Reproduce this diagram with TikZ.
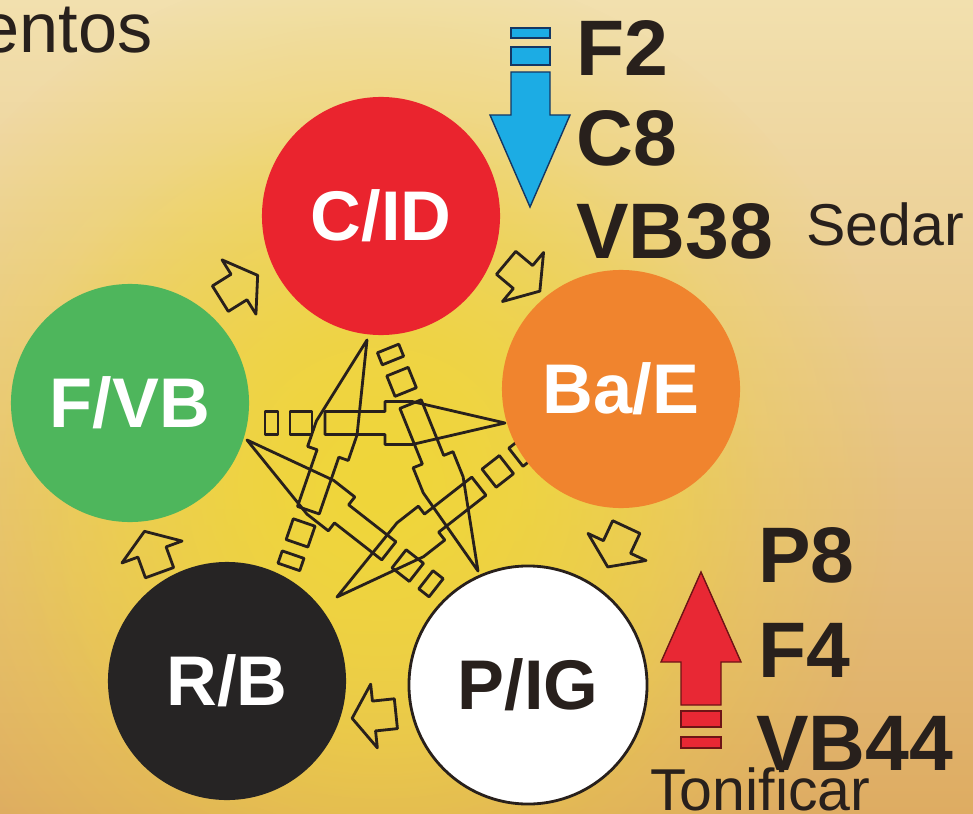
\documentclass[tikz,border=0pt]{standalone}
\usepackage{fontspec}
\setmainfont{Liberation Sans}
\usepackage{tikz}
\usetikzlibrary{arrows.meta,positioning,fadings}
\definecolor{bgTop}{RGB}{242,224,174}
\definecolor{bgBottom}{RGB}{222,172,98}
\definecolor{glowYellow}{RGB}{240,214,58}
\definecolor{fireRed}{RGB}{234,36,46}
\definecolor{woodGreen}{RGB}{78,182,92}
\definecolor{earthOrange}{RGB}{240,132,46}
\definecolor{waterBlack}{RGB}{38,36,36}
\definecolor{inkDark}{RGB}{40,32,28}
\definecolor{sedateBlue}{RGB}{28,172,228}
\definecolor{sedateEdge}{RGB}{20,55,100}
\definecolor{tonifyRed}{RGB}{232,40,52}
\definecolor{tonifyEdge}{RGB}{110,20,22}
\tikzfading[name=glowfade, inner color=transparent!0, outer color=transparent!100]

\begin{document}
\begin{tikzpicture}[x=0.025cm, y=-0.025cm,
    phase/.style={circle, minimum size=5.95cm, inner sep=0pt, text=white,
      font=\fontsize{50}{50}\selectfont\bfseries},
    pointlabel/.style={inner sep=0pt, anchor=base west, text=inkDark,
      font=\fontsize{56}{56}\selectfont\bfseries},
    note/.style={inner sep=0pt, anchor=base west, text=inkDark,
      font=\fontsize{42}{42}\selectfont},
    inkline/.style={draw=inkDark, line width=2pt, line join=round},
    flow/.pic={\draw[inkline] (-22,-15) -- (0,-15) -- (0,-32) -- (22,0) -- (0,32) -- (0,15) -- (-22,15) -- cycle;},
    cross/.pic={
      \draw[inkline] (0,0) -- (93,21.5) -- (120,21.5) -- (120,11.5) -- (180,11.5)
        -- (180,-11.5) -- (120,-11.5) -- (120,-21.5) -- (93,-21.5) -- cycle;
      \draw[inkline] (193,-11.5) rectangle (215,11.5);
      \draw[inkline] (227,-11.5) rectangle (240,11.5);}]
    % Page and parchment
    \useasboundingbox (0,0) rectangle (973,814);
    \clip (0,0) rectangle (973,814);
    \shade[top color=bgTop, bottom color=bgBottom] (0,0) rectangle (973,814);
    % Yellow glow in the middle
    \fill[glowYellow, path fading=glowfade] (380,480) circle (520);
    \fill[glowYellow, path fading=glowfade, opacity=0.8] (380,490) circle (380);
    % Star of broken arrows
    \pic[rotate=180] at (505,423) {cross};
    \pic[rotate=251] at (367,340) {cross};
    \pic[rotate=322] at (247,440) {cross};
    \pic[rotate=38] at (337,597) {cross};
    \pic[rotate=112] at (478,571) {cross};
    % The five phases
    \node[phase, fill=fireRed] (fire) at (381,216) {C/ID};
    \node[phase, fill=woodGreen] (wood) at (130,403) {F/VB};
    \node[phase, fill=earthOrange] (earth) at (621,389) {Ba/E};
    \node[phase, fill=waterBlack] (water) at (227,681) {R/B};
    \node[phase, fill=white, draw=inkDark, line width=2pt, text=inkDark] (metal) at (528,685) {P/IG};
    % Small arrows round the ring
    \pic[rotate=32] at (239,287) {flow};
    \pic[rotate=-40] at (523,277) {flow};
    \pic[rotate=245] at (617,547) {flow};
    \pic[rotate=186] at (374,716) {flow};
    \pic[rotate=110] at (152,552) {flow};
    % Sedate arrow
    \filldraw[fill=sedateBlue, draw=sedateEdge, line width=1pt] (511,28) rectangle (550,38);
    \filldraw[fill=sedateBlue, draw=sedateEdge, line width=1pt] (511,47) rectangle (550,65);
    \filldraw[fill=sedateBlue, draw=sedateEdge, line width=1pt] (511,72) -- (550,72) -- (550,115)
      -- (570,115) -- (530,207) -- (490,115) -- (511,115) -- cycle;
    % Tonify arrow
    \filldraw[fill=tonifyRed, draw=tonifyEdge, line width=1pt] (681,705) -- (721,705) -- (721,662)
      -- (741,662) -- (701,572) -- (661,662) -- (681,662) -- cycle;
    \filldraw[fill=tonifyRed, draw=tonifyEdge, line width=1pt] (681,711) rectangle (721,727);
    \filldraw[fill=tonifyRed, draw=tonifyEdge, line width=1pt] (681,737) rectangle (721,748);
    % Points and notes
    \node[pointlabel] (f2) at (576,76) {F2};
    \node[pointlabel] (c8) at (576,166) {C8};
    \node[pointlabel] (vb38) at (576,258) {VB38};
    \node[note] (sedar) at (806,245) {Sedar};
    \node[pointlabel] (p8) at (758,582) {P8};
    \node[pointlabel] (f4) at (758,677) {F4};
    \node[pointlabel] (vb44) at (756,770) {VB44};
    \node[note] (tonificar) at (650,810) {Tonificar};
    \node[note, anchor=base east, font=\fontsize{50}{50}\selectfont] (title) at (153,53) {entos};
  \end{tikzpicture}
\end{document}
